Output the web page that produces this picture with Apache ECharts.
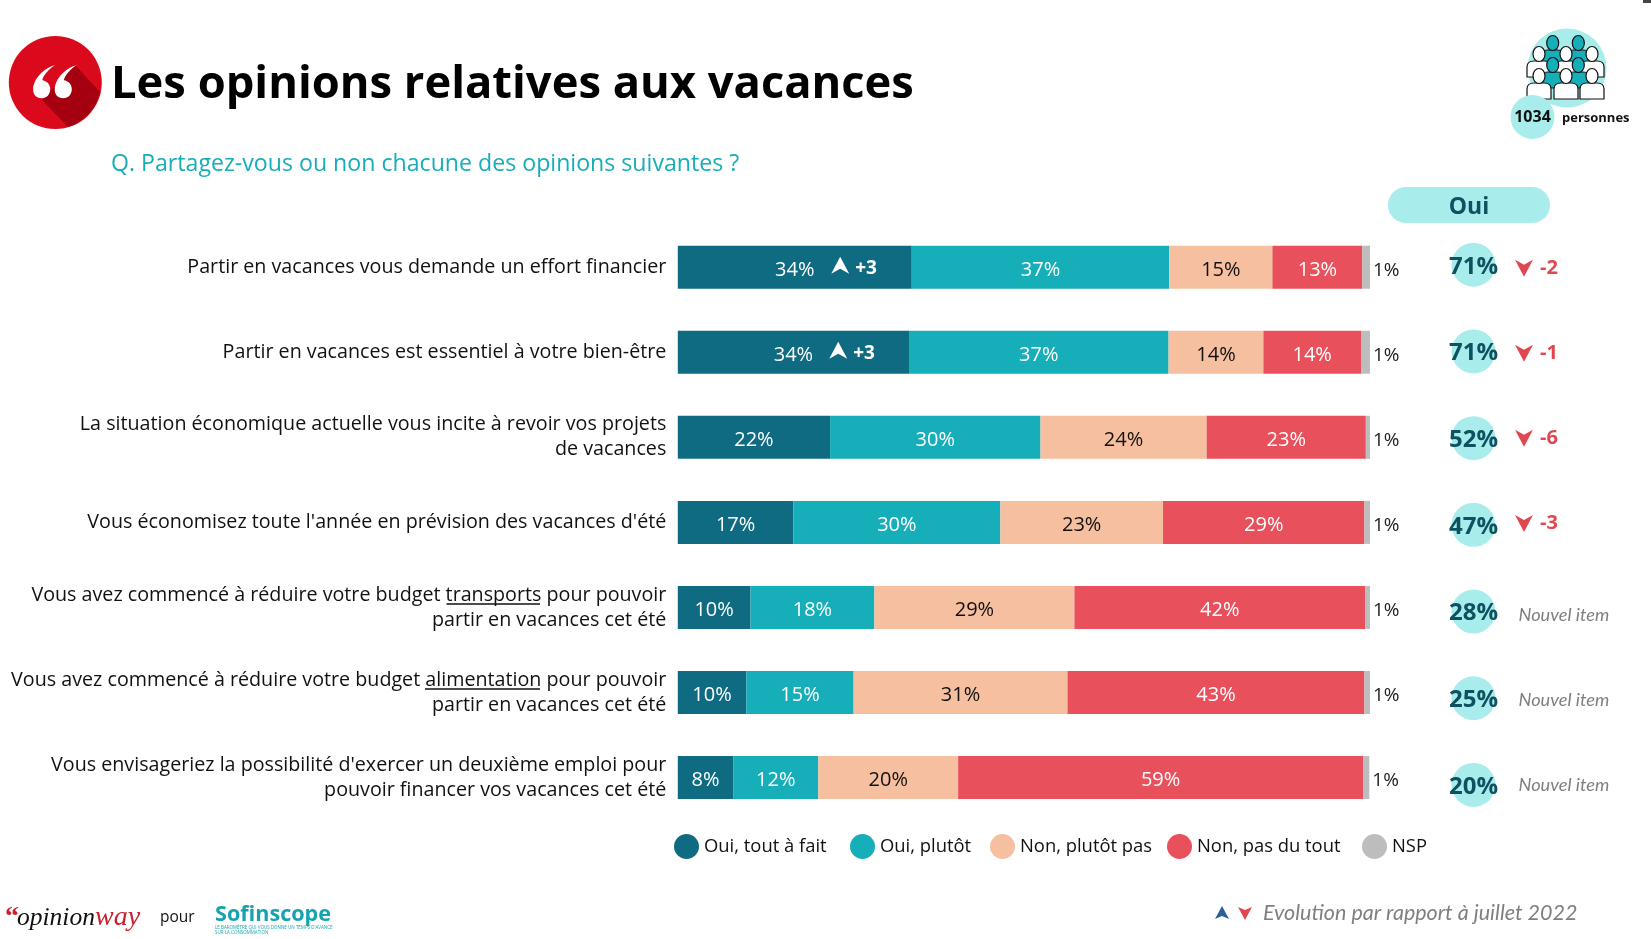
<!DOCTYPE html>
<html>
<head>
<meta charset="utf-8">
<title>Les opinions relatives aux vacances</title>
<style>
  html, body { margin: 0; padding: 0; background: #fff; }
  #chart { width: 1651px; height: 939px; }
</style>
<script src="https://cdn.jsdelivr.net/npm/echarts@6/dist/echarts.min.js"></script>
</head>
<body>
<div id="chart"></div>
<script>
// libellés des lignes
const categories = [
  'Partir en vacances vous demande un effort financier',
  'Partir en vacances est essentiel à votre bien-être',
  'La situation économique actuelle vous incite à revoir vos projets\nde vacances',
  "Vous économisez toute l'année en prévision des vacances d'été",
  'Vous avez commencé à réduire votre budget transports pour pouvoir\npartir en vacances cet été',
  'Vous avez commencé à réduire votre budget alimentation pour pouvoir\npartir en vacances cet été',
  "Vous envisageriez la possibilité d'exercer un deuxième emploi pour\npouvoir financer vos vacances cet été"
]

const ouiToutAFait = [33.8, 33.4, 22.0, 16.7, 10.5, 9.9, 8.0]
const ouiPlutot = [37.2, 37.5, 30.4, 29.9, 17.9, 15.5, 12.3]
const nonPlutotPas = [14.9, 13.7, 24.0, 23.5, 28.9, 30.9, 20.2]
const nonPasDuTout = [13.0, 14.1, 23.0, 29.1, 42.0, 42.9, 58.5]
const nsp = [1.2, 1.3, 0.8, 0.9, 0.8, 0.9, 0.9]

// pourcentages imprimés dans les barres
const ouiToutAFaitLabels = [34, 34, 22, 17, 10, 10, 8]
const ouiPlutotLabels = [37, 37, 30, 30, 18, 15, 12]
const nonPlutotPasLabels = [15, 14, 24, 23, 29, 31, 20]
const nonPasDuToutLabels = [13, 14, 23, 29, 42, 43, 59]
const nspLabels = [1, 1, 1, 1, 1, 1, 1]

const ouiTotal = [71, 71, 52, 47, 28, 25, 20]
const ouiEvolution = [-2, -1, -6, -3, null, null, null]
const toutAFaitEvolution = [3, 3, null, null, null, null, null]

const seriesNames = ['Oui, tout à fait', 'Oui, plutôt', 'Non, plutôt pas', 'Non, pas du tout', 'NSP']
const colors = ['#0F6B82', '#16AEB8', '#F6C0A0', '#E8505B', '#BDBDBD']
const legendLeft = [674, 850, 990, 1167, 1362]

const LIGHT = '#A9ECEC'
const DARK = '#0E5160'
const RED = '#E0474F'
const FONT = '"Open Sans", sans-serif'
const ARROW_UP = 'path://M0,-9 L9,8 L0,3 L-9,8 Z'
const ARROW_DOWN = 'path://M-9,-8 L0,-3 L9,-8 L0,9 Z'

function barSeries(i, values, labels, textColor) {
  return {
    name: seriesNames[i],
    type: 'bar',
    stack: 'total',
    barWidth: 43,
    data: values,
    itemStyle: { color: colors[i] },
    label: {
      show: true,
      position: i === 4 ? 'right' : 'inside',
      distance: 3,
      offset: [0, 3],
      color: textColor,
      fontFamily: FONT,
      fontSize: i === 4 ? 19 : 20,
      formatter: p => labels[p.dataIndex] + '%'
    }
  }
}

// le composant graphic ne connait pas "path" : on enregistre chaque forme
let shapeCount = 0
function pathEl(d, style, z) {
  const name = 'deco' + shapeCount++
  echarts.graphic.registerShape(name, echarts.graphic.extendPath(d))
  return { type: name, z: z || 1, style: style }
}

// petit personnage de l'icône
function person(x, y, fill) {
  return [
    pathEl(`M${x - 12},${y + 16} L${x - 12},${y + 6} Q${x - 12},${y} ${x - 5},${y} L${x + 5},${y} Q${x + 12},${y} ${x + 12},${y + 6} L${x + 12},${y + 16} Z`, { fill: fill, stroke: '#111', lineWidth: 1.2 }, 5),
    { type: 'ellipse', z: 5, shape: { cx: x, cy: y - 7, rx: 6, ry: 7.5 }, style: { fill: fill, stroke: '#111', lineWidth: 1.2 } }
  ]
}

const crowd = []
;[[1552.7, 50, '#16AEB8'], [1578.3, 50, '#16AEB8']].forEach(p => crowd.push(...person(...p)))
;[[1539, 61, '#fff'], [1566, 61, '#fff'], [1592, 61, '#fff']].forEach(p => crowd.push(...person(...p)))
;[[1552.7, 72, '#16AEB8'], [1578.3, 72, '#16AEB8']].forEach(p => crowd.push(...person(...p)))
;[[1539, 83, '#fff'], [1566, 83, '#fff'], [1592, 83, '#fff']].forEach(p => crowd.push(...person(...p)))

function quoteMark(cx, cy) {
  const p = (dx, dy) => (cx + dx) + ',' + (cy + dy)
  return `M${p(13.5, -24.3)} C${p(2, -21)} ${p(-9, -10)} ${p(-8.5, 1)} C${p(-8.5, 6)} ${p(-4.5, 9)} ${p(0, 9)} C${p(5, 9)} ${p(8.5, 5)} ${p(8.5, 0)} C${p(8.5, -5)} ${p(5, -8.5)} ${p(0.5, -9)} C${p(2, -15)} ${p(8, -21)} ${p(13.5, -24.3)} Z`
}

function text(x, y, str, style) {
  return {
    type: 'text', x: x, y: y, z: 10,
    style: Object.assign({ text: str, fontFamily: FONT, fill: '#111', verticalAlign: 'middle' }, style)
  }
}

const decorations = [
  // pastille guillemets
  { type: 'circle', shape: { cx: 55.3, cy: 82.5, r: 46.5 }, style: { fill: '#DA0A1C' } },
  pathEl('M75,65 L100,92 A46.5,46.5 0 0 1 68,127 L42,100 Z', { fill: '#A4000F' }, 2),
  pathEl(quoteMark(41.7, 89.3) + ' ' + quoteMark(63.3, 89.3), { fill: '#fff' }, 3),
  // icône échantillon
  { type: 'circle', shape: { cx: 1567, cy: 68, r: 39.5 }, style: { fill: LIGHT } },
  ...crowd,
  { type: 'circle', z: 6, shape: { cx: 1532.5, cy: 117, r: 22 }, style: { fill: LIGHT } },
  text(1532.5, 117, '1034', { align: 'center', fontSize: 16, fontWeight: 'bold' }),
  text(1562, 118, 'personnes', { fontSize: 13, fontWeight: 'bold' }),
  { type: 'rect', shape: { x: 1643, y: 0, width: 8, height: 3 }, style: { fill: '#444' } },
  // en-tête Oui
  { type: 'rect', shape: { x: 1388, y: 187, width: 162, height: 36, r: 18 }, style: { fill: LIGHT } },
  text(1469, 207, 'Oui', { align: 'center', fontSize: 23, fontWeight: 'bold', fill: DARK }),
  // soulignés
  { type: 'line', z: 10, shape: { x1: 446.5, y1: 604, x2: 540, y2: 604 }, style: { stroke: '#111', lineWidth: 1.4 } },
  { type: 'line', z: 10, shape: { x1: 425, y1: 689, x2: 540, y2: 689 }, style: { stroke: '#111', lineWidth: 1.4 } },
  // pied de page
  text(5, 918, '“', { fontFamily: '"Liberation Serif", serif', fontWeight: 'bold', fontSize: 28, fill: '#C8202C' }),
  text(17, 918, 'opinion', { fontFamily: '"Liberation Serif", serif', fontStyle: 'italic', fontSize: 25.5 }),
  text(95, 918, 'way', { fontFamily: '"Liberation Serif", serif', fontStyle: 'italic', fontSize: 28, fill: '#C8202C' }),
  text(160, 918, 'pour', { fontSize: 15.5 }),
  text(215, 915, 'Sofinscope', { fontFamily: FONT, fontWeight: 'bold', fontSize: 21.6, fill: '#16A3AE' }),
  text(215, 928, "LE BAROMÈTRE QUI VOUS DONNE UN TEMPS D'AVANCE", { fontSize: 4.5, fill: '#16A3AE' }),
  text(215, 933, 'SUR LA CONSOMMATION', { fontSize: 4.5, fill: '#16A3AE' }),
  pathEl('M1222,906 L1229,919 L1222,916 L1215,919 Z', { fill: '#2C5F93' }),
  pathEl('M1238,907 L1245,910 L1252,907 L1245,920 Z', { fill: RED }),
  text(1263, 913, 'Evolution par rapport à juillet 2022', { fontFamily: 'Lato, sans-serif', fontStyle: 'italic', fontSize: 21.5, fill: '#7F7F7F' })
]

const hiddenX = i => ({ type: 'value', gridIndex: i, min: 0, max: 1, show: false })
const hiddenY = i => ({ type: 'category', gridIndex: i, inverse: true, data: categories, show: false })

const option = {
  backgroundColor: '#fff',
  animation: false,
  title: [
    { text: 'Les opinions relatives aux vacances', left: 111, top: 63, padding: 0, textStyle: { fontFamily: FONT, fontWeight: 'bold', fontSize: 45.3, color: '#000' } },
    { text: 'Q. Partagez-vous ou non chacune des opinions suivantes ?', left: 111, top: 153, padding: 0, textStyle: { fontFamily: FONT, fontWeight: 'normal', fontSize: 23.15, color: '#18AEB8' } }
  ],
  // une légende par entrée : les espacements de l'original ne sont pas réguliers
  legend: seriesNames.map((name, i) => ({
    data: [name],
    left: legendLeft[i],
    top: 834,
    padding: 0,
    icon: 'circle',
    itemWidth: 25,
    itemHeight: 25,
    selectedMode: false,
    textStyle: { fontFamily: FONT, fontSize: 18.4, color: '#111' }
  })),
  grid: [
    { left: 677.8, top: 224.7, width: 692.2, height: 595.35 },
    { left: 1440, top: 221.4, width: 67, height: 606.9 },
    { left: 1524, top: 225.7, width: 80, height: 595.35 }
  ],
  xAxis: [
    { type: 'value', gridIndex: 0, min: 0, max: 100, show: false },
    hiddenX(1),
    hiddenX(2)
  ],
  yAxis: [
    {
      type: 'category',
      gridIndex: 0,
      inverse: true,
      data: categories,
      axisLine: { show: false },
      axisTick: { show: false },
      axisLabel: { margin: 11.5, fontFamily: FONT, fontSize: 19.7, lineHeight: 25, color: '#111', align: 'right' }
    },
    hiddenY(1),
    hiddenY(2)
  ],
  series: [
    barSeries(0, ouiToutAFait, ouiToutAFaitLabels, '#fff'),
    barSeries(1, ouiPlutot, ouiPlutotLabels, '#fff'),
    barSeries(2, nonPlutotPas, nonPlutotPasLabels, '#111'),
    barSeries(3, nonPasDuTout, nonPasDuToutLabels, '#fff'),
    barSeries(4, nsp, nspLabels, '#222'),
    {
      // flèches dans le premier segment
      type: 'scatter',
      z: 5,
      symbol: ARROW_UP,
      symbolSize: [18, 17],
      symbolOffset: [0, -2],
      itemStyle: { color: '#fff', opacity: 1 },
      data: toutAFaitEvolution.map((v, i) => v === null ? null : [ouiToutAFait[i] * 0.7 - 0.2, i]).filter(Boolean),
      label: {
        show: true,
        position: 'right',
        distance: 6,
        offset: [0, 3],
        color: '#fff',
        fontFamily: FONT,
        fontWeight: 'bold',
        fontSize: 19,
        formatter: p => '+' + toutAFaitEvolution[p.value[1]]
      }
    },
    {
      // total Oui
      type: 'scatter',
      xAxisIndex: 1,
      yAxisIndex: 1,
      symbol: 'circle',
      symbolSize: 44,
      itemStyle: { color: LIGHT, opacity: 1 },
      data: ouiTotal.map((v, i) => [0.5, i]),
      label: {
        show: true,
        position: 'inside',
        offset: [0, 2],
        color: DARK,
        fontFamily: FONT,
        fontWeight: 'bold',
        fontSize: 24,
        formatter: p => ouiTotal[p.value[1]] + '%'
      }
    },
    {
      // évolution du total Oui, ou nouvel item
      type: 'scatter',
      xAxisIndex: 2,
      yAxisIndex: 2,
      symbolSize: [18, 17],
      itemStyle: { color: RED, opacity: 1 },
      data: ouiEvolution.map((v, i) => v === null
        ? { value: [0, i], symbol: 'circle', symbolSize: 1, itemStyle: { color: 'transparent' }, label: { position: 'right', distance: 0, offset: [-6, 7], color: '#7F7F7F', fontFamily: 'Lato, sans-serif', fontStyle: 'italic', fontWeight: 'normal', fontSize: 18.2, formatter: 'Nouvel item' } }
        : { value: [0, i], symbol: ARROW_DOWN }),
      label: {
        show: true,
        position: 'right',
        distance: 7,
        color: RED,
        fontFamily: FONT,
        fontWeight: 'bold',
        fontSize: 20,
        formatter: p => String(ouiEvolution[p.value[1]])
      }
    }
  ],
  graphic: { elements: decorations }
}

const myChart = echarts.init(document.getElementById('chart'))
myChart.setOption(option)
</script>
</body>
</html>
